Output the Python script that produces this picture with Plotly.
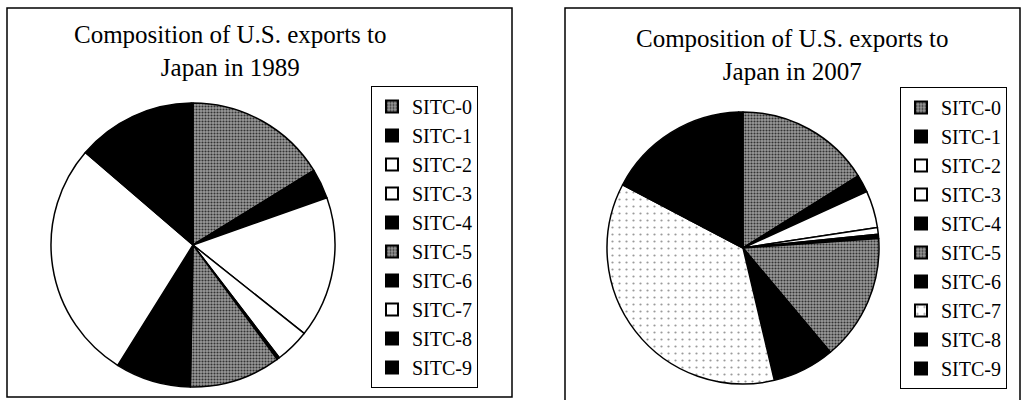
import plotly.graph_objects as go

labels = ["SITC-0", "SITC-1", "SITC-2", "SITC-3", "SITC-4",
          "SITC-5", "SITC-6", "SITC-7", "SITC-8", "SITC-9"]
share_1989 = [16.2, 3.4, 16.1, 3.9, 0.3, 10.4, 8.6, 27.4, 13.5, 0.2]
share_2007 = [16.1, 2.1, 4.4, 0.8, 0.5, 15.0, 7.4, 36.4, 16.8, 0.5]
title_1989 = "Composition of U.S. exports to<br>Japan in 1989"
title_2007 = "Composition of U.S. exports to<br>Japan in 2007"

fills = ["#9a9a9a", "black", "white", "white", "black",
         "#9a9a9a", "black", "white", "black", "black"]
pat_1989 = [".", "", "", "", "", ".", "", "", "", ""]
pat_2007 = [".", "", "", "", "", ".", "", ".", "", ""]
pat_fg_2007 = ["#333333"] * 7 + ["#9a9a9a"] + ["#333333"] * 2
pat_size_2007 = [3] * 7 + [7] + [3] * 2
pat_sol_2007 = [0.4] * 7 + [0.08] + [0.4] * 2

W, H = 1025, 400
FONT = "Liberation Serif, Times New Roman, serif"


def dom(cx, cy, r):
    return dict(x=[(cx - r) / W, (cx + r) / W], y=[1 - (cy + r) / H, 1 - (cy - r) / H])


def pie(values, domain, legend, group, pats, fg, size, sol):
    return go.Pie(
        labels=labels, values=values, sort=False, direction="clockwise", rotation=0,
        domain=domain, textinfo="none", hoverinfo="label+percent",
        marker=dict(colors=fills, line=dict(color="black", width=1.5),
                    pattern=dict(shape=pats, fgcolor=fg, bgcolor=fills,
                                 size=size, solidity=sol)),
        legend=legend, legendgroup=group,
    )


fig = go.Figure()
fig.add_trace(pie(share_1989, dom(193, 245, 142), "legend", "a",
                  pat_1989, "#333333", 3, 0.4))
fig.add_trace(pie(share_2007, dom(743, 248, 136), "legend2", "b",
                  pat_2007, pat_fg_2007, pat_size_2007, pat_sol_2007))

legend_common = dict(bgcolor="white", bordercolor="black", borderwidth=1,
                     xanchor="left", yanchor="top", traceorder="normal",
                     itemsizing="constant", font=dict(size=20, family=FONT))
fig.update_layout(
    width=W, height=H, margin=dict(l=0, r=0, t=0, b=0),
    paper_bgcolor="white", plot_bgcolor="white",
    font=dict(family=FONT, color="black"),
    legend=dict(x=371 / W, y=1 - 86 / H, **legend_common),
    legend2=dict(x=900 / W, y=1 - 87 / H, **legend_common),
    shapes=[
        dict(type="rect", xref="paper", yref="paper", x0=7 / W, x1=512 / W,
             y0=1 - 397 / H, y1=1 - 8 / H, line=dict(color="black", width=1.5)),
        dict(type="rect", xref="paper", yref="paper", x0=565 / W, x1=1020 / W,
             y0=-0.05, y1=1 - 8 / H, line=dict(color="black", width=1.5)),
    ],
    annotations=[
        dict(text=title_1989, xref="paper", yref="paper", x=230 / W, y=1 - 19 / H,
             xanchor="center", yanchor="top", showarrow=False,
             font=dict(size=25, family=FONT)),
        dict(text=title_2007, xref="paper", yref="paper", x=792 / W, y=1 - 23 / H,
             xanchor="center", yanchor="top", showarrow=False,
             font=dict(size=25, family=FONT)),
    ],
)

fig.write_html("out.html", config={"displayModeBar": False},
               post_script="document.body.style.margin='0px';")
